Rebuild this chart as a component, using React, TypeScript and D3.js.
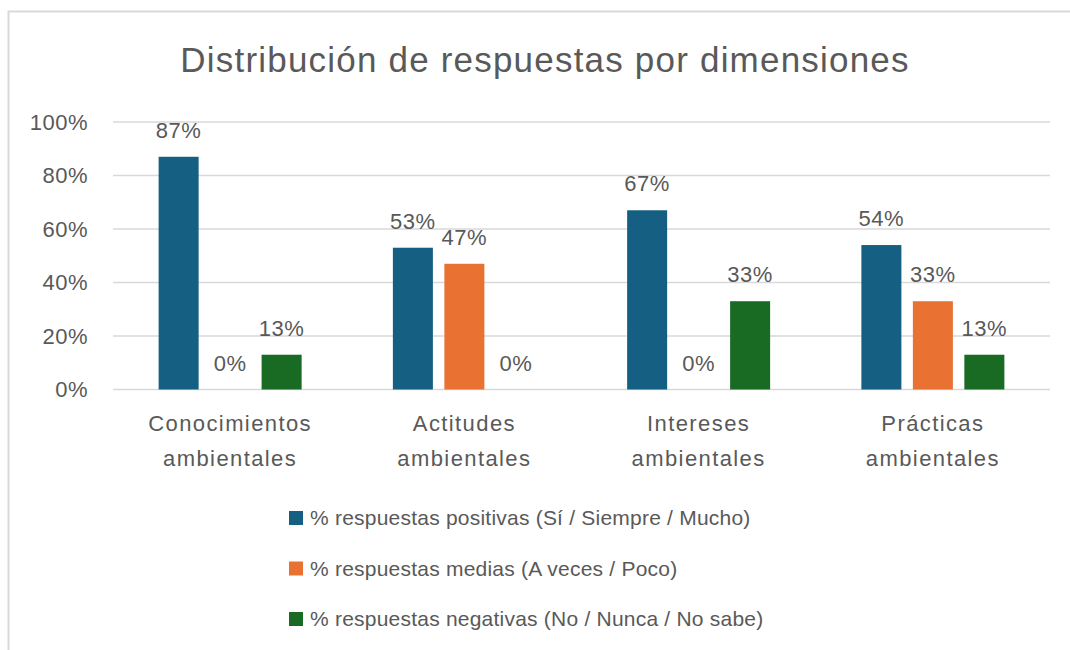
import * as d3 from 'd3'

const categories = [
  ['Conocimientos', 'ambientales'],
  ['Actitudes', 'ambientales'],
  ['Intereses', 'ambientales'],
  ['Prácticas', 'ambientales'],
]
const seriesNames = [
  '% respuestas positivas (Sí / Siempre / Mucho)',
  '% respuestas medias (A veces / Poco)',
  '% respuestas negativas (No / Nunca / No sabe)',
]
const positivas = [87, 53, 67, 54]
const medias = [0, 47, 0, 33]
const negativas = [13, 0, 33, 13]
const yTicks = [0, 20, 40, 60, 80, 100]
const colors = ['#156082', '#E97132', '#196B24']

const W = 1070, H = 650
const font = '"Liberation Sans", Arial, sans-serif'
const textColor = '#595959'

export default function App() {
  const series = [positivas, medias, negativas]
  const x0 = d3.scaleBand<number>()
    .domain(d3.range(categories.length))
    .range([113, 1050])
  // three bars 40px wide, 51.5px apart, centred in each category
  const x1 = d3.scaleBand<number>()
    .domain(d3.range(series.length))
    .range([x0.bandwidth() / 2 - 71.5, x0.bandwidth() / 2 + 71.5])
    .paddingInner(0.223)
  const y = d3.scaleLinear().domain([0, 100]).range([389.5, 122])

  return (
    <svg width={W} height={H} style={{ position: 'absolute', left: 0, top: 0 }} fontFamily={font}>
      <rect width={W} height={H} fill="#fff" />
      <path d={`M8.5,${H} V11.5 H${W}`} fill="none" stroke="#D9D9D9" strokeWidth={2} />
      <text x={545} y={72} textAnchor="middle" fontSize={35} letterSpacing={1.2} fill={textColor}>
        Distribución de respuestas por dimensiones
      </text>
      <g>
        {yTicks.map(t => (
          <g key={t}>
            <line x1={113} x2={1050} y1={y(t)} y2={y(t)} stroke="#D9D9D9" strokeWidth={1.5} />
            <text x={88} y={y(t)} dy="0.35em" textAnchor="end" fontSize={22} letterSpacing={0.5} fill={textColor}>{t}%</text>
          </g>
        ))}
      </g>
      {categories.map((c, i) => (
        <g key={i} transform={`translate(${x0(i)},0)`}>
          {series.map((s, j) => (
            <g key={j}>
              <rect x={x1(j)} y={y(s[i])} width={x1.bandwidth()} height={y(0) - y(s[i])} fill={colors[j]} />
              <text x={x1(j)! + x1.bandwidth() / 2} y={y(s[i]) - 19} textAnchor="middle" fontSize={22} letterSpacing={0.5} fill={textColor}>
                {s[i]}%
              </text>
            </g>
          ))}
          {c.map((line, k) => (
            <text key={k} x={x0.bandwidth() / 2} y={431 + k * 35} textAnchor="middle" fontSize={22} fill={textColor} letterSpacing={1.4}>
              {line}
            </text>
          ))}
        </g>
      ))}
      {seriesNames.map((n, j) => (
        <g key={j} transform={`translate(289,${518 + j * 50.5})`}>
          <rect x={0} y={-7} width={14} height={14} fill={colors[j]} />
          <text x={21} y={0} dy="0.35em" fontSize={21} letterSpacing={0.22} fill={textColor}>{n}</text>
        </g>
      ))}
    </svg>
  )
}
